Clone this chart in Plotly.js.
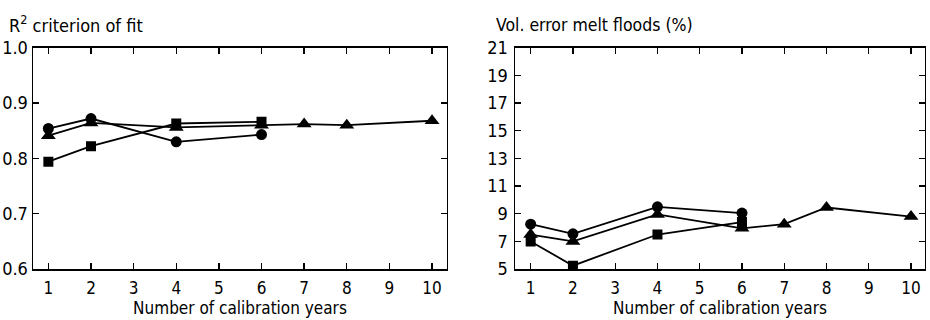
<!DOCTYPE html>
<html>
<head>
<meta charset="utf-8">
<script src="https://cdn.plot.ly/plotly-3.0.1.min.js"></script>
<style>html,body{margin:0;padding:0;background:#fff;}#chart{width:930px;height:320px;}</style>
</head>
<body>
<div id="chart"></div>
<script>
// Calibration years
const yearsShort = [1, 2, 4, 6];
const yearsLong = [1, 2, 4, 6, 7, 8, 10];
const xTicks = [1, 2, 3, 4, 5, 6, 7, 8, 9, 10];

// Left panel: R² criterion of fit
const r2Circle = [0.854, 0.872, 0.830, 0.843];
const r2Triangle = [0.841, 0.864, 0.856, 0.860, 0.862, 0.860, 0.868];
const r2Square = [0.794, 0.822, 0.863, 0.866];

// Right panel: Vol. error melt floods (%)
const volCircle = [8.25, 7.55, 9.5, 9.05];
const volTriangle = [7.5, 7.0, 8.95, 7.95, 8.25, 9.45, 8.8];
const volSquare = [7.0, 5.25, 7.5, 8.4];

const FONT = "DejaVu Sans Condensed, DejaVu Sans, sans-serif";

function tr(x, y, sym, size, xa, ya) {
  return {
    x: x, y: y, xaxis: xa, yaxis: ya, type: 'scatter', mode: 'lines+markers',
    line: {color: '#000', width: 1.8},
    marker: {symbol: sym, size: size, color: '#000'},
    showlegend: false, hoverinfo: 'skip'
  };
}

const data = [
  tr(yearsLong, r2Triangle, 'triangle-up', 13, 'x', 'y'),
  tr(yearsShort, r2Circle, 'circle', 11, 'x', 'y'),
  tr(yearsShort, r2Square, 'square', 10, 'x', 'y'),
  tr(yearsLong, volTriangle, 'triangle-up', 13, 'x2', 'y2'),
  tr(yearsShort, volCircle, 'circle', 11, 'x2', 'y2'),
  tr(yearsShort, volSquare, 'square', 10, 'x2', 'y2')
];

const axCommon = {
  showline: true, linecolor: '#000', linewidth: 1.5, mirror: 'ticks',
  ticks: 'inside', ticklen: 6, tickwidth: 1.3, tickcolor: '#000',
  showgrid: false, zeroline: false,
  tickfont: {family: FONT, size: 18, color: '#000'}
};

const xTickFont = {family: FONT, size: 17, color: '#000'};
const xTitle = {text: 'Number of calibration years', font: {family: FONT, size: 17, color: '#000'}, standoff: 3};

const layout = {
  width: 930, height: 320,
  margin: {l: 0, r: 0, t: 0, b: 0},
  paper_bgcolor: '#fff', plot_bgcolor: '#fff',
  font: {family: FONT, color: '#000', size: 16},
  xaxis: Object.assign({}, axCommon, {
    domain: [0.0355, 0.4806], range: [0.64, 10.35],
    tickvals: xTicks, ticktext: xTicks.map(String),
    tickfont: xTickFont, ticklabelstandoff: 3,
    title: xTitle
  }),
  yaxis: Object.assign({}, axCommon, {
    domain: [0.159, 0.851], range: [0.6, 1.0],
    tickvals: [0.6, 0.7, 0.8, 0.9, 1.0], ticktext: ['0.6', '0.7', '0.8', '0.9', '1.0']
  }),
  xaxis2: Object.assign({}, axCommon, {
    anchor: 'y2',
    domain: [0.5538, 0.9946], range: [0.63, 10.33],
    tickvals: xTicks, ticktext: xTicks.map(String),
    tickfont: xTickFont, ticklabelstandoff: 3,
    title: xTitle
  }),
  yaxis2: Object.assign({}, axCommon, {
    anchor: 'x2',
    domain: [0.159, 0.851], range: [5, 21],
    tickvals: [5, 7, 9, 11, 13, 15, 17, 19, 21],
    ticklabelstandoff: 2
  }),
  annotations: [
    {text: 'R<sup>2</sup> criterion of fit', xref: 'paper', yref: 'paper', x: 7/930, y: 1 - 10/320,
     xanchor: 'left', yanchor: 'top', showarrow: false, font: {family: FONT, size: 18, color: '#000'}},
    {text: 'Vol. error melt floods (%)', xref: 'paper', yref: 'paper', x: 494/930, y: 1 - 13/320,
     xanchor: 'left', yanchor: 'top', showarrow: false, font: {family: FONT, size: 17.5, color: '#000'}}
  ]
};

Plotly.newPlot('chart', data, layout, {staticPlot: true, displayModeBar: false});
</script>
</body>
</html>
